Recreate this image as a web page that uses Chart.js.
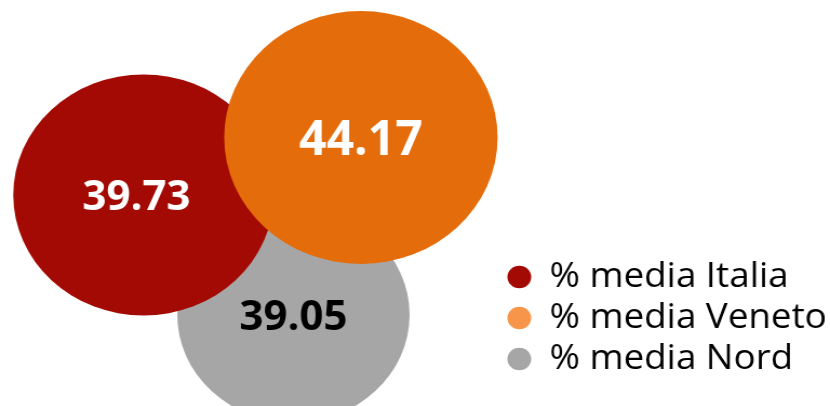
<!DOCTYPE html>
<html>
<head>
<meta charset="utf-8">
<script src="https://cdn.jsdelivr.net/npm/chart.js@4"></script>
<style>
  html, body { margin: 0; padding: 0; background: #fff; overflow: hidden; }
  #chart { display: block; }
</style>
</head>
<body>
<!-- the original picture is stretched a little sideways, so the canvas is too -->
<canvas id="chart" width="768" height="406" style="width:830px;height:406px"></canvas>
<script>
const series = ["% media Italia", "% media Veneto", "% media Nord"];
const values = [39.73, 44.17, 39.05];
const xValues = [28.7, 72.2, 58.7];
const yValues = [49.1, 64.1, 17.8];
const bubbleSizes = [120.5, 126.5, 107.5];

const stretch = 830 / 768;
const colors = ["#a20a03", "#e46c0a", "#a6a6a6"];
const legendColors = ["#a20a03", "#f7964a", "#a6a6a6"];
const labelColors = ["#ffffff", "#ffffff", "#000000"];
const labelFontSizes = [42, 48, 42];
const labelShiftX = [-6.5, 0, 0];
// Veneto sits on top, Nord at the back
const drawOrder = [2, 1, 3];

/* Values written in the middle of each bubble */
const valueLabels = {
    id: "valueLabels",
    afterDatasetsDraw(chart) {
        const ctx = chart.ctx;
        chart.data.datasets.forEach((ds, i) => {
            const pt = chart.getDatasetMeta(i).data[0];
            const size = labelFontSizes[i];
            ctx.save();
            ctx.translate(pt.x + labelShiftX[i], pt.y);
            // undo the sideways stretch for the numbers
            ctx.scale(1 / stretch, 1);
            ctx.font = "bold " + size + "px 'Open Sans'";
            ctx.textAlign = "center";
            ctx.textBaseline = "alphabetic";
            ctx.fillStyle = labelColors[i];
            ctx.fillText(values[i].toFixed(2), 0, size * 0.357);
            ctx.restore();
        });
    }
};

new Chart(document.getElementById("chart"), {
    type: "bubble",
    data: {
        datasets: series.map((name, i) => ({
            label: name,
            data: [{ x: xValues[i], y: yValues[i], r: bubbleSizes[i] }],
            backgroundColor: colors[i],
            borderWidth: 0,
            hoverBorderWidth: 0,
            clip: false,
            order: drawOrder[i]
        }))
    },
    options: {
        responsive: false,
        animation: false,
        devicePixelRatio: 1,
        layout: { autoPadding: false, padding: { bottom: 23, right: -7 } },
        scales: {
            x: { type: "linear", min: 0, max: 100, display: false },
            y: { type: "linear", min: 0, max: 100, display: false }
        },
        plugins: {
            tooltip: { enabled: false },
            legend: {
                position: "right",
                align: "end",
                labels: {
                    usePointStyle: true,
                    pointStyle: "circle",
                    pointStyleWidth: 22,
                    boxHeight: 16,
                    padding: 7,
                    color: "#000000",
                    font: { family: "'Open Sans'", size: 34 },
                    sort: (a, b) => a.datasetIndex - b.datasetIndex,
                    generateLabels(chart) {
                        const items = Chart.defaults.plugins.legend.labels.generateLabels(chart);
                        items.forEach(it => {
                            it.fillStyle = legendColors[it.datasetIndex];
                            it.strokeStyle = legendColors[it.datasetIndex];
                            it.lineWidth = 0;
                        });
                        return items;
                    }
                }
            }
        }
    },
    plugins: [valueLabels]
});
</script>
</body>
</html>
